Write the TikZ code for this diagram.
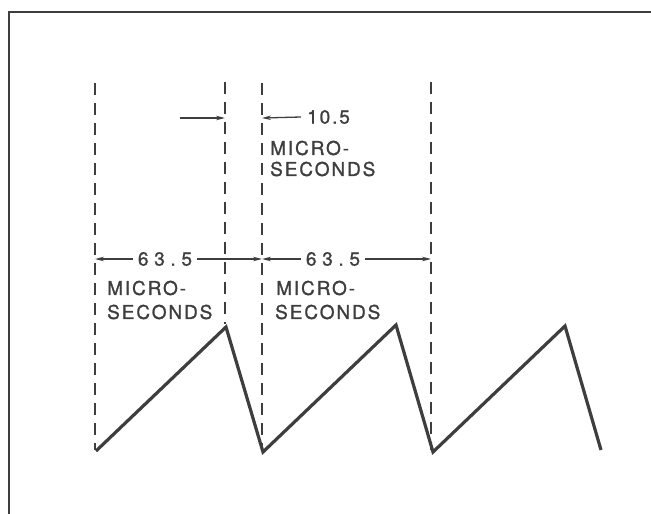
\documentclass[tikz,border=0pt]{standalone}
\usepackage{fontspec}
\setmainfont{TeX Gyre Heros}[LetterSpace=10,FakeBold=1.2]
\usetikzlibrary{arrows.meta}
\definecolor{ink}{RGB}{62,62,62}
\begin{document}
\begin{tikzpicture}[x=1pt,y=-1pt,
  frame/.style={line width=2pt, draw=ink},
  guide/.style={line width=1.4pt, draw=ink, dash pattern=on 12pt off 8pt},
  wave/.style={line width=3.2pt, draw=ink, line join=miter},
  dim/.style={line width=1.3pt, draw=ink, -{Stealth[length=9pt,width=4.5pt]}},
  lbl/.style={font=\fontsize{19}{22}\selectfont, text=ink, inner sep=0pt, anchor=west},
  num/.style={font=\fontsize{19}{22}\selectfont\addfontfeature{LetterSpace=30}, text=ink, inner ysep=0pt, inner xsep=5pt},
]
\useasboundingbox (0,0) rectangle (651,514);
% frame
\draw[frame] (9,514) -- (9,12) -- (651,12);
% guide lines
\coordinate (v1t) at (95,83);  \coordinate (v1b) at (95,450);
\coordinate (v2t) at (225,82); \coordinate (v2b) at (225,324);
\coordinate (v3t) at (262,83); \coordinate (v3b) at (262,450);
\coordinate (v4t) at (431,82); \coordinate (v4b) at (431,450);
\draw[guide] (v1t) -- (v1b);
\draw[guide] (v2t) -- (v2b);
\draw[guide] (v3t) -- (v3b);
\draw[guide] (v4t) -- (v4b);
% sawtooth
\coordinate (s0) at (96,451);
\coordinate (s1) at (226,327);
\coordinate (s2) at (263,452);
\coordinate (s3) at (396,325);
\coordinate (s4) at (433,452);
\coordinate (s5) at (565,326);
\coordinate (s6) at (601,450);
\draw[wave] (s0) -- (s1) -- (s2) -- (s3) -- (s4) -- (s5) -- (s6);
% top dimension (10.5)
\coordinate (a0) at (180,118); \coordinate (a1) at (225,118);
\coordinate (b1) at (262,118);
\draw[dim] (a0) -- (a1);
\node[lbl] (t105) at (307,117) {10.5};
\draw[dim] ([xshift=-6pt]t105.west) -- (b1);
\node[lbl] (tm) at (270,148) {MICRO-};
\node[lbl] (ts) at (270,169) {SECONDS};
% 63.5 dimensions
\coordinate (q1) at (95,259); \coordinate (q2) at (262,259); \coordinate (q3) at (431,259);
\node[num] (n1) at (165,259) {63.5};
\node[num] (n2) at (333,259) {63.5};
\draw[dim] (n1.west) -- (q1);
\draw[dim] (n1.east) -- (q2);
\draw[dim] (n2.west) -- (q2);
\draw[dim] (n2.east) -- (q3);
\node[lbl] (m1) at (107,288) {MICRO-};
\node[lbl] (c1) at (107,312) {SECONDS};
\node[lbl] (m2) at (276,288) {MICRO-};
\node[lbl] (c2) at (275,312) {SECONDS};
\end{tikzpicture}
\end{document}
